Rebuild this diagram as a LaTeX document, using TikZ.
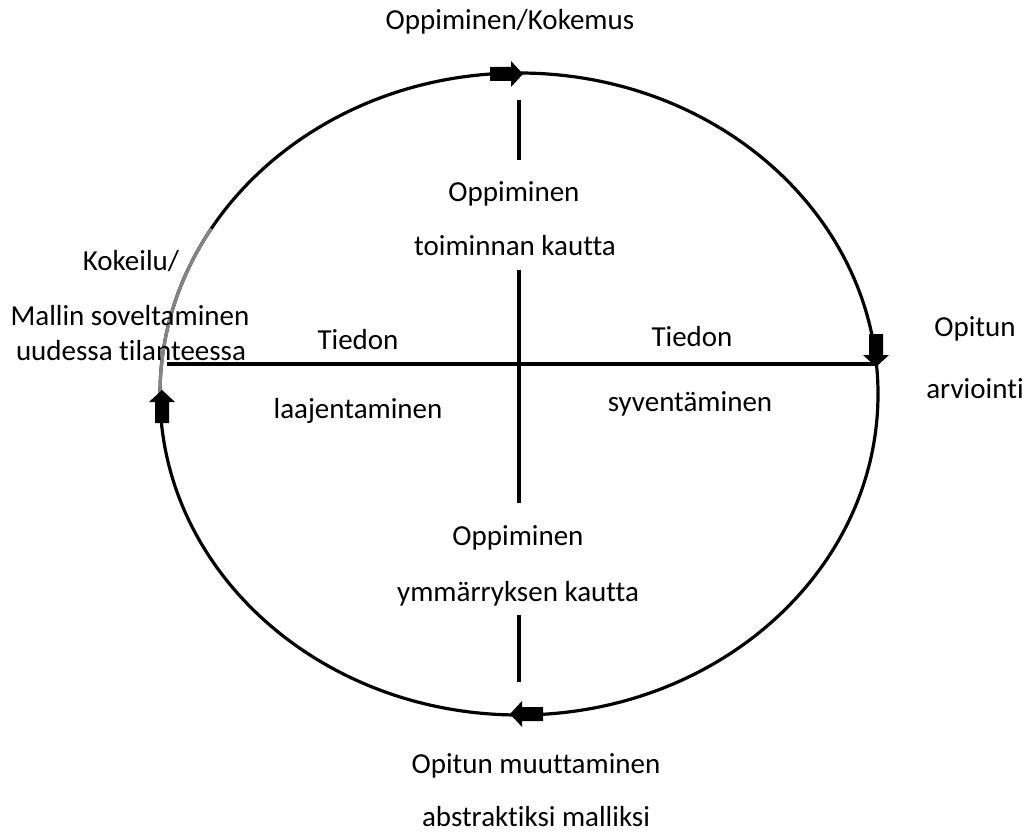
\documentclass[tikz,border=0pt]{standalone}
\usepackage{fontspec}
\setmainfont{Carlito}[Ligatures={NoCommon,NoContextual}]
\begin{document}
\begin{tikzpicture}[x=1pt,y=-1pt,
  lbl/.style={anchor=base, inner sep=0pt, font=\fontsize{29}{35}\selectfont},
  ring/.style={line width=3.2pt},
  axis/.style={line width=3.8pt},
  pics/blockarrow/.style={code={
    \fill (0,0) -- (-12,-13) -- (-12,-7) -- (-33,-7) -- (-33,7)
      -- (-12,7) -- (-12,13) -- cycle;}}]
\useasboundingbox (0,0) rectangle (1028,834);

% cycle
\coordinate (c) at (519,394);
\draw[ring] (c) ellipse [x radius=359pt, y radius=321pt];
\draw[ring, draw=black!48] (c) ++(149:359pt and 321pt)
  arc [start angle=149, end angle=180, x radius=359pt, y radius=321pt];

% direction marks on the cycle
\pic at (523,74) {blockarrow};
\pic[rotate=-90] at (876,367) {blockarrow};
\pic[rotate=180] at (510,714) {blockarrow};
\pic[rotate=90] at (162,390) {blockarrow};

% axes
\coordinate (v1) at (519,100); \coordinate (v2) at (519,160);
\coordinate (v3) at (519,270); \coordinate (v4) at (519,503);
\coordinate (v5) at (519,615); \coordinate (v6) at (519,682);
\draw[axis] (v1) -- (v2);
\draw[axis] (v3) -- (v4);
\draw[axis] (v5) -- (v6);
\coordinate (hl) at (167,364); \coordinate (hr) at (876,364);
\draw[axis] (hl) -- (hr);

% labels
\node[lbl] (kok) at (510,30) {Oppiminen/Kokemus};
\node[lbl] (ot1) at (514,202) {Oppiminen};
\node[lbl] (ot2) at (515,256) {toiminnan kautta};
\node[lbl] (oy1) at (518,545) {Oppiminen};
\node[lbl] (oy2) at (518,601) {ymmärryksen kautta};
\node[lbl] (ms1) at (131,271) {Kokeilu/};
\node[lbl] (ms2) at (130,326) {Mallin soveltaminen};
\node[lbl] (ms3) at (131,360) {uudessa tilanteessa};
\node[lbl] (tl1) at (358,349) {Tiedon};
\node[lbl] (tl2) at (358,418) {laajentaminen};
\node[lbl] (ts1) at (692,346) {Tiedon};
\node[lbl] (ts2) at (690,411) {syventäminen};
\node[lbl] (oa1) at (975,337) {Opitun};
\node[lbl] (oa2) at (975,398) {arviointi};
\node[lbl] (om1) at (536,773) {Opitun muuttaminen};
\node[lbl] (om2) at (536,826) {abstraktiksi malliksi};
\end{tikzpicture}
\end{document}
